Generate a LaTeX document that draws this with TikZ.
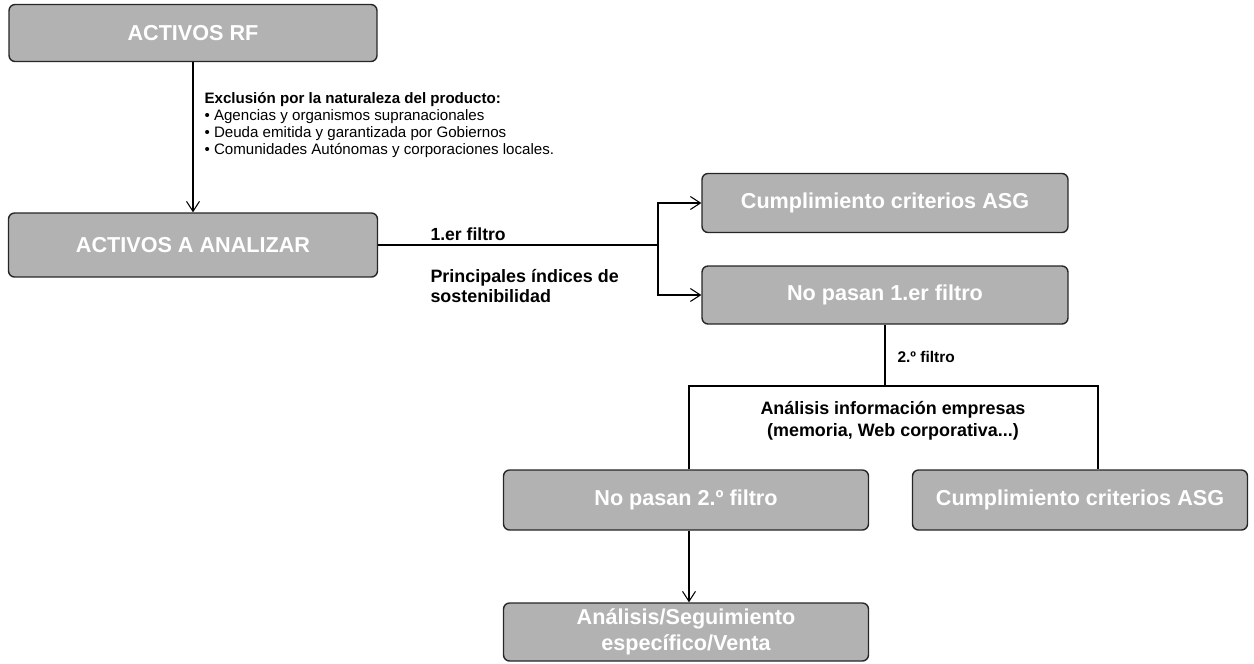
\documentclass[tikz,border=0pt]{standalone}
\usepackage{fontspec}
\setmainfont{Liberation Sans}
\usetikzlibrary{arrows.meta}
\tikzset{
  caja/.style={draw=black!85,fill=gray!60,rounded corners=0.12cm,thick,
    text=white,font=\fontsize{12.3}{14.7}\selectfont\bfseries,align=center,
    inner sep=0pt},
  nota/.style={font=\fontsize{8.6}{9.6}\selectfont,align=left,inner sep=0pt},
  flecha/.style={-{Straight Barb[length=0.2cm,width=0.26cm]}},
}
\begin{document}
\begin{tikzpicture}[x=0.02cm,y=-0.02cm,line width=0.6pt]
  \useasboundingbox (0,0) rectangle (1254,663);
  %\draw[dashed,very thin,gray] (0,0) grid[step=50] (1254,663);
  \node[caja,minimum width=7.36cm,minimum height=1.14cm] (rf) at (193,33) {ACTIVOS RF};
  \node[caja,minimum width=7.38cm,minimum height=1.28cm] (analizar) at (193,245) {ACTIVOS A ANALIZAR};
  \node[caja,minimum width=7.32cm,minimum height=1.18cm] (asgA) at (885,203) {Cumplimiento criterios ASG};
  \node[caja,minimum width=7.32cm,minimum height=1.16cm] (nopasaA) at (885,295) {No pasan 1.er filtro};
  \node[caja,minimum width=7.3cm,minimum height=1.2cm] (nopasaB) at (686,500) {No pasan 2.º filtro};
  \node[caja,minimum width=6.7cm,minimum height=1.2cm] (asgB) at (1080,500) {Cumplimiento criterios ASG};
  \node[caja,minimum width=7.3cm,minimum height=1.16cm] (seguim) at (686,632) {Análisis/Seguimiento\\específico/Venta};
  % Textos
  \node[nota,anchor=north west] (exclusion) at (204,92) {\textbf{Exclusión por la naturaleza del producto:}\\
    • Agencias y organismos supranacionales\\
    • Deuda emitida y garantizada por Gobiernos\\
    • Comunidades Autónomas y corporaciones locales.};
  \node[nota,font=\fontsize{10}{11}\selectfont\bfseries,anchor=south west] (filtroA) at (430,241) {1.er filtro};
  \node[nota,font=\fontsize{10.2}{11}\selectfont\bfseries,anchor=north west] (indices) at (430,269) {Principales índices de\\sostenibilidad};
  \node[nota,font=\fontsize{8.8}{10.5}\selectfont\bfseries,anchor=west] (filtroB) at (897,357) {2.º filtro};
  \node[nota,font=\fontsize{10.2}{12.4}\selectfont\bfseries,align=center] (empresas) at (893,421) {Análisis información empresas\\(memoria, Web corporativa...)};
  % Conectores
  \coordinate (split) at (658,245);
  \coordinate (bl) at (689,386);
  \coordinate (br) at (1098,386);
  \draw[flecha] (rf) -- (analizar);
  \draw (analizar.east) -- (split);
  \draw[flecha] (split) |- (asgA.west);
  \draw[flecha] (split) |- (nopasaA.west);
  \draw (nopasaA.south) -- (nopasaA.south |- bl);
  \draw (nopasaB.north -| bl) -- (bl) -- (br) -- (asgB.north -| br); % Llave 2.º filtro
  \draw[flecha] (nopasaB.south -| bl) -- (seguim.north -| bl);
\end{tikzpicture}
\end{document}
